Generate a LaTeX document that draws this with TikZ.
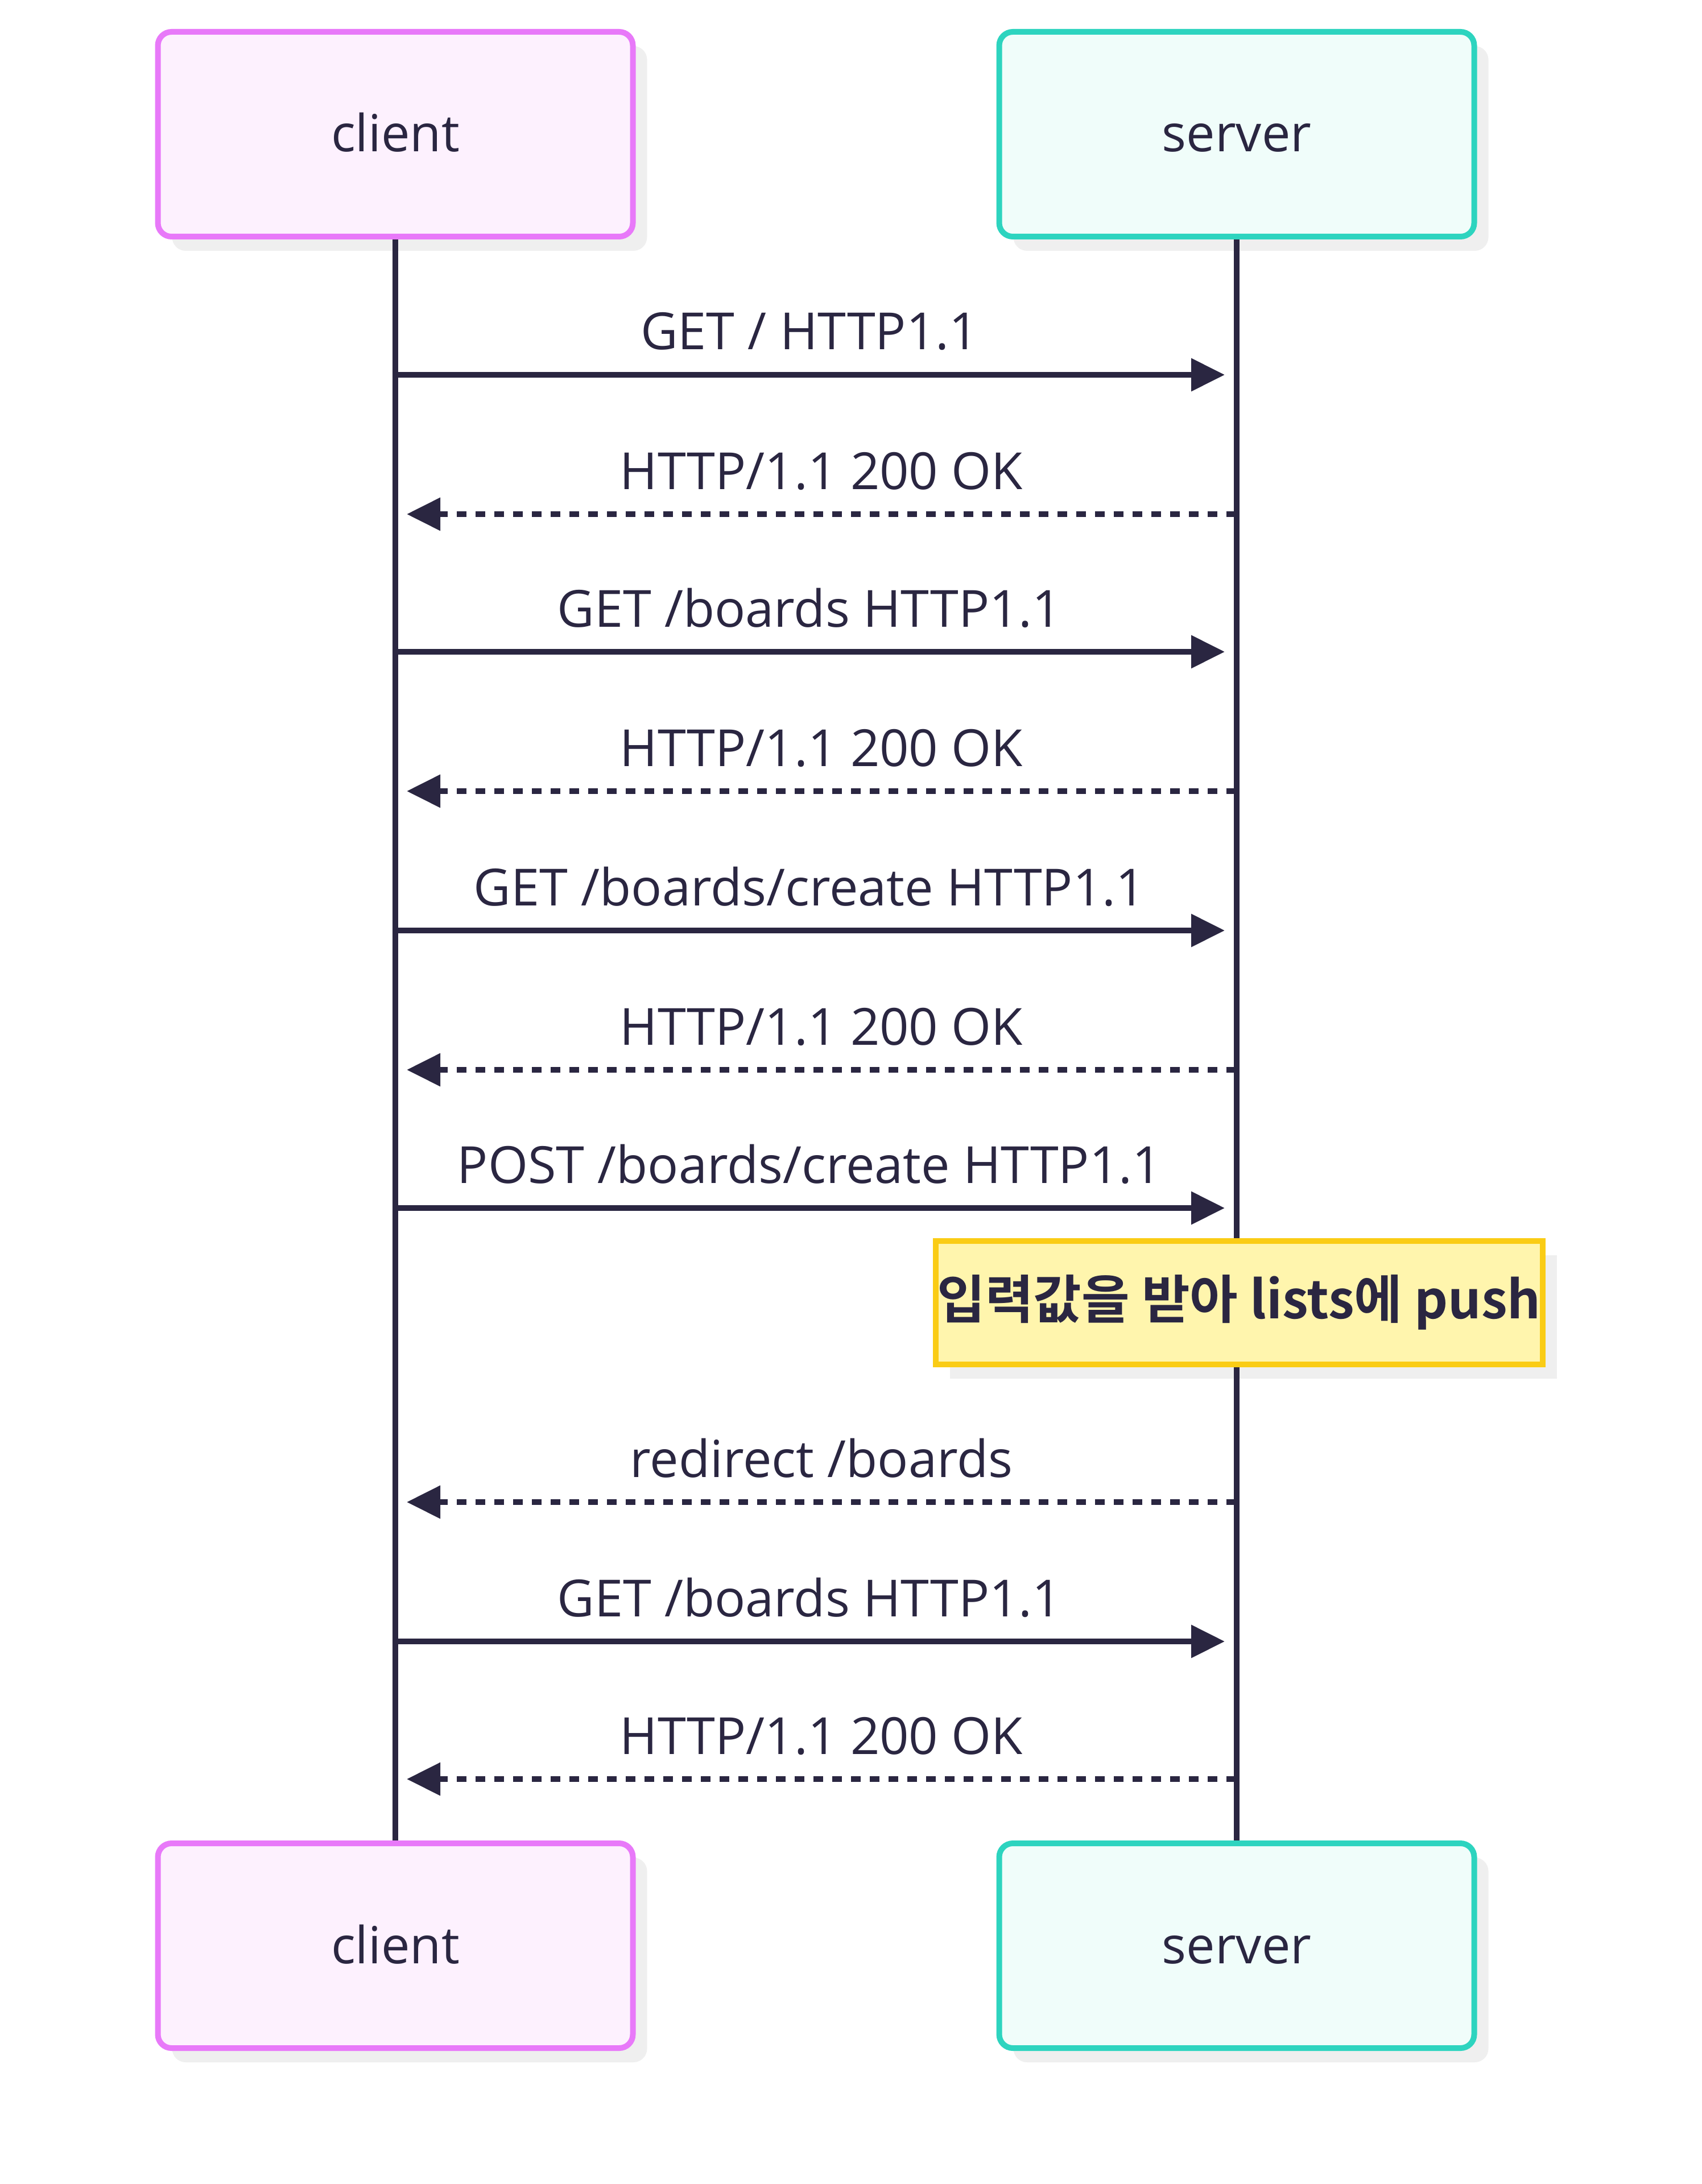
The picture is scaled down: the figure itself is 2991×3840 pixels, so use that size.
\documentclass[tikz,border=0pt]{standalone}
\usepackage{fontspec}
\setmainfont{Open Sans}
\newfontfamily\krbold{Noto Sans CJK KR Bold}
\usetikzlibrary{arrows.meta,shadows}
\definecolor{txt}{HTML}{2A2641}
\definecolor{cliB}{HTML}{E879F9}
\definecolor{cliF}{HTML}{FDF1FE}
\definecolor{srvB}{HTML}{2DD4BF}
\definecolor{srvF}{HTML}{F0FDFA}
\definecolor{noteB}{HTML}{FACC15}
\definecolor{noteF}{HTML}{FFF5AD}
\definecolor{shd}{HTML}{EFEFEF}
\tikzset{
  myshadow/.style={drop shadow={shadow xshift=6.25pt, shadow yshift=-6.25pt, fill=shd, opacity=1}},
  actorbox/.style={rounded corners=6pt, line width=2.5pt, minimum width=208.75pt, minimum height=90pt,
    text height=17pt, text depth=1.5pt,
    font=\fontsize{22.5}{27}\selectfont, text=txt, myshadow},
  clientbox/.style={actorbox, draw=cliB, fill=cliF},
  serverbox/.style={actorbox, draw=srvB, fill=srvF},
  notebox/.style={draw=noteB, fill=noteF, line width=2.5pt, minimum width=266.75pt, minimum height=54.25pt,
    font=\krbold\fontsize{23}{27}\selectfont, text=txt, inner sep=0pt, myshadow},
  lifeline/.style={draw=txt, line width=2.5pt},
  solidmsg/.style={draw=txt, line width=2.5pt, -{Triangle[length=14.75pt,width=14pt]}},
  dashmsg/.style={solidmsg, dash pattern=on 4.25pt off 4pt},
  msglbl/.style={midway, anchor=base, yshift=11pt, font=\fontsize{22.5}{27}\selectfont, text=txt, inner sep=0pt},
}
\begin{document}
\begin{tikzpicture}[x=0.25pt,y=-0.25pt]
\useasboundingbox (0,0) rectangle (2991,3840);
% actor boxes
\node[clientbox] (cT) at (695,236) {client};
\node[serverbox] (sT) at (2174,236) {server};
\node[clientbox] (cB) at (695,3421) {client};
\node[serverbox] (sB) at (2174,3421) {server};
% note
\node[notebox] (note) at (2178,2290) {입력값을 받아 lists에 push};
% lifelines
\draw[lifeline] (cT.south) -- (cB.north);
\draw[lifeline] (sT.south) -- (sT.south |- note.north);
\draw[lifeline] (sT.south |- note.south) -- (sB.north);
% requests (client -> server)
\foreach \i/\y/\t in {1/659/{GET / HTTP1.1},
                      3/1146/{GET /boards HTTP1.1},
                      5/1636/{GET /boards/create HTTP1.1},
                      7/2124/{POST /boards/create HTTP1.1},
                      9/2886/{GET /boards HTTP1.1}} {
  \coordinate (m\i a) at (693,\y);
  \coordinate (m\i b) at (2153,\y);
  \draw[solidmsg] (m\i a) -- node[msglbl] {\t} (m\i b);
}
% responses (server -> client)
\foreach \i/\y/\t in {2/904/{HTTP/1.1 200 OK},
                      4/1391/{HTTP/1.1 200 OK},
                      6/1881/{HTTP/1.1 200 OK},
                      8/2641/{redirect /boards},
                      10/3128/{HTTP/1.1 200 OK}} {
  \coordinate (m\i a) at (2173,\y);
  \coordinate (m\i b) at (715,\y);
  \draw[dashmsg] (m\i a) -- node[msglbl] {\t} (m\i b);
}
\end{tikzpicture}
\end{document}
